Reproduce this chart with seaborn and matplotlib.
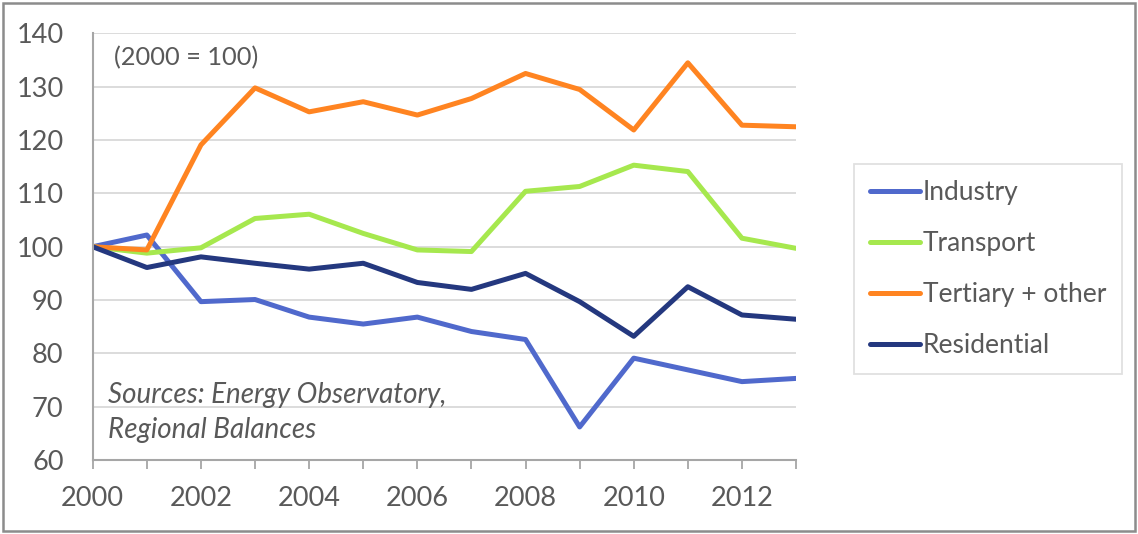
import matplotlib
matplotlib.use("Agg")
import matplotlib.pyplot as plt
from matplotlib.patches import Rectangle
import numpy as np
import pandas as pd
import seaborn as sns

years = list(range(2000, 2014))
industry = [100, 102.2, 89.7, 90.1, 86.8, 85.5, 86.8, 84.1, 82.6, 66.2, 79.1, 76.9, 74.7, 75.3]
transport = [100, 98.8, 99.8, 105.3, 106.1, 102.5, 99.4, 99.1, 110.4, 111.3, 115.3, 114.1, 101.6, 99.7]
tertiary = [100, 99.4, 119.1, 129.8, 125.3, 127.2, 124.7, 127.8, 132.5, 129.5, 121.9, 134.5, 122.8, 122.5]
residential = [100, 96.1, 98.1, 96.9, 95.8, 96.9, 93.3, 92.0, 95.0, 89.7, 83.2, 92.5, 87.2, 86.4]

sectors = ["Industry", "Transport", "Tertiary + other", "Residential"]
colors = ["#5069CC", "#A6E84E", "#FF8421", "#24387F"]

df = pd.DataFrame({
    "year": years * 4,
    "value": industry + transport + tertiary + residential,
    "sector": sum([[s] * len(years) for s in sectors], []),
})

sns.set_theme(style="white")
plt.rcParams["font.family"] = ["Lato", "DejaVu Sans"]

text_color = "#595959"
fig = plt.figure(figsize=(11.38, 5.34), dpi=100)
ax = fig.add_axes([0.0815, 0.1386, 0.6180, 0.7987])

sns.lineplot(data=df, x="year", y="value", hue="sector", hue_order=sectors,
             palette=colors, linewidth=3.6, ax=ax, legend=True)

ax.set_xlim(2000, 2013)
ax.set_ylim(60, 140)
ax.set_yticks(np.arange(60, 141, 10))
ax.set_xticks(years)
ax.set_xticklabels([str(y) if y % 2 == 0 else "" for y in years])
ax.set_xlabel("")
ax.set_ylabel("")
ax.grid(axis="y", color="#D9D9D9", linewidth=1.3)
ax.set_axisbelow(True)
for side in ["top", "right"]:
    ax.spines[side].set_visible(False)
for side in ["left", "bottom"]:
    ax.spines[side].set_color("#A6A6A6")
    ax.spines[side].set_linewidth(1.5)
ax.tick_params(axis="x", direction="out", length=6.5, width=1.3, color="#A6A6A6",
               labelsize=19.5, labelcolor=text_color, pad=12, bottom=True)
ax.tick_params(axis="y", length=0, labelsize=19.5, labelcolor=text_color, pad=21)

ax.text(0.03, 0.944, "(2000 = 100)", transform=ax.transAxes, fontsize=18.3,
        color=text_color, va="center", ha="left")
ax.text(0.021, 0.111, "Sources: Energy Observatory,\nRegional Balances",
        transform=ax.transAxes, fontsize=20, color=text_color, style="italic",
        va="center", ha="left", linespacing=1.45)

leg = ax.legend(loc="upper left", bbox_to_anchor=(0.7504, 0.6929),
                bbox_transform=fig.transFigure, frameon=True,
                fontsize=19, labelspacing=0.99, handlelength=1.9, handletextpad=0.12,
                borderpad=0.6, borderaxespad=0, fancybox=False, edgecolor="#D9D9D9")
leg.get_frame().set_linewidth(1.3)
for t in leg.get_texts():
    t.set_color(text_color)
for h in leg.get_lines():
    h.set_linewidth(3.6)
    h.set_solid_capstyle("round")

fig.patches.append(Rectangle((0.003, 0.006), 0.994, 0.988, transform=fig.transFigure,
                             fill=False, edgecolor="#8C8C8C", linewidth=1.8))

fig.savefig("out.png", dpi=100)
